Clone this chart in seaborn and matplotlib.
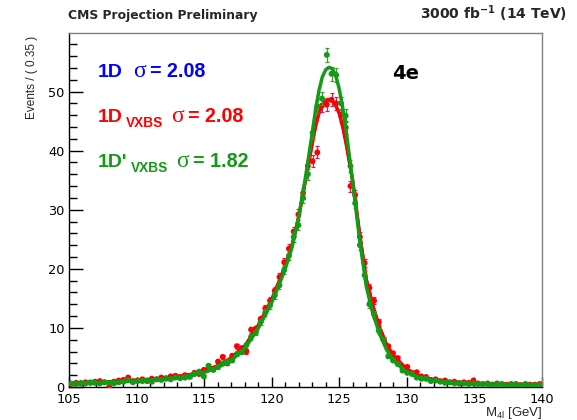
import numpy as np
import pandas as pd
import matplotlib
matplotlib.use("Agg")
import matplotlib.pyplot as plt
from matplotlib.ticker import MultipleLocator
import seaborn as sns

# ---------------- data ----------------
bin_width = 0.35
bin_centers = np.round(105.175 + bin_width * np.arange(100), 3)

red_counts = [0.5, 0.7, 0.6, 0.8, 0.7, 0.9, 1.0, 0.8, 0.0, 0.9,
              1.1, 1.2, 1.6, 1.0, 1.1, 1.3, 1.0, 1.4, 1.3, 1.6,
              1.5, 1.8, 1.9, 1.7, 2.0, 1.9, 2.4, 2.2, 2.9, 3.2,
              3.0, 4.3, 5.1, 4.0, 5.3, 6.9, 6.6, 6.0, 9.7, 9.9,
              11.5, 13.3, 14.6, 16.3, 18.6, 21.1, 23.4, 26.3, 29.2, 32.8,
              37.4, 38.2, 39.7, 47.6, 47.8, 48.6, 48.0, 46.0, 43.9, 34.0,
              32.5, 25.4, 21.0, 16.8, 14.6, 11.0, 8.0, 6.9, 5.7, 4.9,
              3.3, 3.4, 2.4, 2.5, 1.8, 1.7, 1.2, 1.3, 1.0, 1.1,
              0.8, 0.9, 0.6, 0.8, 0.7, 1.1, 0.6, 0.5, 0.6, 0.4,
              0.6, 0.5, 0.4, 0.5, 0.5, 0.3, 0.5, 0.4, 0.4, 0.5]

green_counts = [0.6, 0.5, 0.7, 0.6, 0.8, 0.7, 0.6, 0.8, 0.7, 0.6,
                0.8, 0.9, 1.2, 0.8, 1.0, 1.0, 1.1, 0.9, 1.3, 1.2,
                1.4, 1.3, 1.6, 1.5, 1.6, 1.7, 2.2, 2.6, 1.8, 3.6,
                2.9, 3.4, 4.0, 4.3, 4.5, 5.6, 5.9, 7.1, 8.5, 9.2,
                11.0, 12.6, 13.8, 15.5, 17.2, 19.8, 22.2, 25.4, 27.4, 32.0,
                36.0, 43.0, 47.5, 48.8, 56.2, 53.0, 52.8, 48.0, 45.9, 37.4,
                31.1, 24.0, 18.9, 14.0, 12.3, 9.5, 8.0, 5.2, 4.5, 3.9,
                2.8, 2.4, 2.2, 1.6, 1.4, 1.4, 1.0, 1.1, 0.9, 0.7,
                0.8, 0.6, 0.7, 0.6, 0.5, 0.6, 0.5, 0.4, 0.5, 0.4,
                0.5, 0.4, 0.3, 0.4, 0.4, 0.3, 0.4, 0.3, 0.3, 0.3]

curve_x = [105, 107, 109, 111, 113, 114, 115, 116, 117, 118, 119, 120, 120.5,
           121, 121.5, 122, 122.5, 123, 123.25, 123.5, 123.75, 124, 124.25,
           124.5, 124.75, 125, 125.25, 125.5, 126, 126.5, 127, 127.5, 128,
           128.5, 129, 130, 131, 132, 133, 135, 137, 140]

red_curve = [0.6, 0.8, 1.0, 1.3, 1.75, 2.1, 2.7, 3.6, 4.9, 6.9, 10.4, 14.8, 17.6,
             20.5, 24.0, 28.8, 35.0, 41.2, 44.2, 46.4, 47.8, 48.4, 48.6,
             48.4, 47.6, 46.3, 44.1, 41.3, 34.8, 26.0, 18.2, 13.6, 10.0,
             7.2, 5.3, 3.0, 1.8, 1.2, 0.9, 0.6, 0.5, 0.4]

# 1D and 1D_VXBS give the same resolution (sigma = 2.08): the curves coincide
blue_curve = [0.6, 0.8, 1.0, 1.3, 1.75, 2.1, 2.7, 3.6, 4.9, 6.9, 10.4, 14.8, 17.6,
              20.5, 24.0, 28.8, 35.0, 41.2, 44.2, 46.4, 47.8, 48.4, 48.6,
              48.4, 47.6, 46.3, 44.1, 41.3, 34.8, 26.0, 18.2, 13.6, 10.0,
              7.2, 5.3, 3.0, 1.8, 1.2, 0.9, 0.6, 0.5, 0.4]

green_curve = [0.5, 0.7, 0.9, 1.15, 1.55, 1.9, 2.45, 3.3, 4.5, 6.5, 9.9, 14.3, 17.0,
               20.0, 23.6, 28.8, 35.5, 43.0, 47.0, 50.2, 52.5, 53.7, 54.1,
               53.8, 52.6, 50.4, 47.3, 43.5, 34.5, 25.0, 17.0, 12.3, 8.9,
               6.3, 4.5, 2.5, 1.5, 1.0, 0.75, 0.5, 0.4, 0.3]

legend_labels = ["1D", "1D", "1D'"]
legend_sub = ["", "VXBS", "VXBS"]
legend_sigma = ["2.08", "2.08", "1.82"]

# ---------------- style ----------------
sns.set_theme(style="ticks")
plt.rcParams["font.family"] = ["DejaVu Sans"]
plt.rcParams["mathtext.fontset"] = "custom"
plt.rcParams["mathtext.rm"] = "Liberation Sans"
plt.rcParams["mathtext.it"] = "Liberation Sans:italic"
plt.rcParams["mathtext.bf"] = "DejaVu Sans:bold"

LIB = ["Liberation Sans", "DejaVu Sans"]
BLUE = "#0000ff"
RED = "#ff0000"
GREEN = "#139a16"
RED_ERR = "#c8206a"
GREEN_ERR = "#3a9a3a"

W, H = 577, 420
fig = plt.figure(figsize=(W / 100, H / 100), dpi=100)
ax = fig.add_axes([69 / W, 1 - 387 / H, (542 - 69) / W, (387 - 33) / H])

def fpx(x, y):
    return (x / W, 1 - y / H)

red_df = pd.DataFrame({"m": bin_centers, "n": red_counts})
green_df = pd.DataFrame({"m": bin_centers, "n": green_counts})
curves = pd.DataFrame({"m": curve_x, "blue": blue_curve, "red": red_curve, "green": green_curve})

red_err = 0.16 * np.sqrt(np.array(red_counts))
green_err = 0.16 * np.sqrt(np.array(green_counts))

# blue (hidden under red)
sns.lineplot(data=curves, x="m", y="blue", ax=ax, color=BLUE, lw=2.0, sort=False, estimator=None, zorder=2)

# red series
ax.errorbar(red_df["m"], red_df["n"], yerr=red_err, fmt="none", ecolor=RED_ERR,
            elinewidth=0.9, capsize=1.5, capthick=0.9, zorder=3)
sns.scatterplot(data=red_df, x="m", y="n", ax=ax, color=RED, s=18, edgecolor="none", zorder=4)
sns.lineplot(data=curves, x="m", y="red", ax=ax, color=RED, lw=2.5, sort=False, estimator=None, zorder=5)

# green series
ax.errorbar(green_df["m"], green_df["n"], yerr=green_err, fmt="none", ecolor=GREEN_ERR,
            elinewidth=0.9, capsize=1.5, capthick=0.9, zorder=6)
sns.scatterplot(data=green_df, x="m", y="n", ax=ax, color=GREEN, s=18, edgecolor="none", zorder=7)
sns.lineplot(data=curves, x="m", y="green", ax=ax, color=GREEN, lw=2.5, sort=False, estimator=None, zorder=8)

ax.set_xlim(105, 140)
ax.set_ylim(0, 59.9)
ax.xaxis.set_major_locator(MultipleLocator(5))
ax.xaxis.set_minor_locator(MultipleLocator(1))
ax.yaxis.set_major_locator(MultipleLocator(10))
ax.yaxis.set_minor_locator(MultipleLocator(2))
ax.tick_params(axis="both", which="both", direction="in", top=False, right=False,
               colors="black", labelsize=9.3, width=1)
ax.tick_params(axis="x", which="major", length=7.5, pad=4)
ax.tick_params(axis="x", which="minor", length=3.8)
ax.tick_params(axis="y", which="major", length=10, pad=3)
ax.tick_params(axis="y", which="minor", length=5.5)
for lbl in ax.get_xticklabels() + ax.get_yticklabels():
    lbl.set_fontfamily("DejaVu Sans")
for s in ["left", "bottom"]:
    ax.spines[s].set_color("black")
    ax.spines[s].set_linewidth(1.0)
for s in ["top", "right"]:
    ax.spines[s].set_color("#808080")
    ax.spines[s].set_linewidth(1.0)
ax.set_xlabel("")
ax.set_ylabel("")

# axis titles
fig.text(*fpx(542, 416), r"M$_{\mathrm{4l}}$ [GeV]", ha="right", va="baseline", fontsize=9.5, family=LIB)
fig.text(*fpx(32, 36), "Events / ( 0.35 )", rotation=90, ha="center", va="top", fontsize=8.5, family=LIB)

# header
fig.text(*fpx(68, 18.5), "CMS Projection Preliminary", ha="left", va="baseline",
         fontsize=8.9, fontweight="bold", family="DejaVu Sans")
fig.text(*fpx(567, 18.5), r"3000 fb$^{\mathbf{-1}}$ (14 TeV)", ha="right", va="baseline",
         fontsize=10.0, fontweight="bold", family="DejaVu Sans")

# legend-like annotations
colors = [BLUE, RED, GREEN]
baselines = [76.7, 121.7, 166.7]
sub_x = [None, 126, 131]
sigma_x = [133, 171, 176]
for lab, sub, sig, col, yb, sx, gx in zip(legend_labels, legend_sub, legend_sigma,
                                            colors, baselines, sub_x, sigma_x):
    fig.text(*fpx(98, yb), lab, color=col, fontsize=14, fontweight="bold",
             ha="left", va="baseline", family=LIB)
    if sub:
        fig.text(*fpx(sx, yb + 5), sub, color=col, fontsize=9.8, fontweight="bold",
                 ha="left", va="baseline", family=LIB)
    fig.text(*fpx(gx, yb), "\u03c3", color=col, fontsize=17, family=["Liberation Serif", "DejaVu Serif"],
             ha="left", va="baseline")
    fig.text(*fpx(gx + 17, yb), "= " + sig, color=col, fontsize=14.2, fontweight="bold",
             ha="left", va="baseline", family=LIB)

fig.text(*fpx(392, 79), "4e", color="black", fontsize=14, fontweight="bold", ha="left", va="baseline",
         family="DejaVu Sans")

fig.savefig("out.png", dpi=100)
